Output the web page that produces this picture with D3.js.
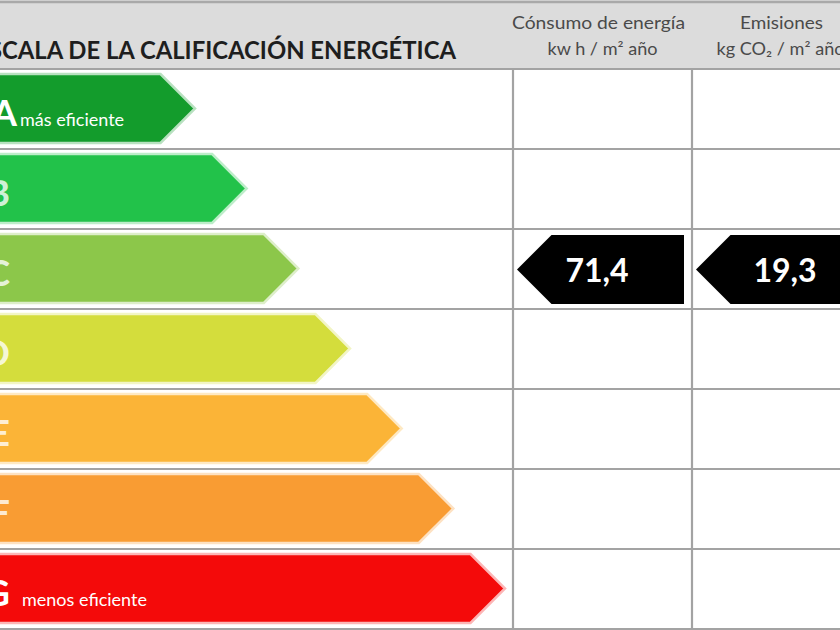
<!DOCTYPE html>
<html><head><meta charset="utf-8">
<script src="https://cdn.jsdelivr.net/npm/d3@7"></script>
<style>html,body{margin:0;padding:0;background:#fff;overflow:hidden}</style>
</head><body><svg id="c" width="840" height="630"></svg>
<script>
const categories = ["A","B","C","D","E","F","G"];
const categoryRank = [1,2,3,4,5,6,7];
const categoryColors = ["#139c2c","#22c24a","#8cc74a","#d4dd3c","#fbb437","#f99c33","#f40a0a"];
const categoryNotes = ["más eficiente","","","","","","menos eficiente"];
const columnTitles = ["Cónsumo de energía","Emisiones"];
const columnUnits = ["kw h / m² año","kg CO₂ / m² año"];
const ratedCategory = "C";
const ratedValues = [71.4, 19.3];
const titleText = "ESCALA DE LA CALIFICACIÓN ENERGÉTICA";

const svg = d3.select("#c");
const W = 840, H = 630;
const y = d3.scaleBand().domain(categories).range([69, 629]);
const x = d3.scaleLinear().domain([1, 7]).range([195, 505]);
const col = d3.scaleBand().domain([0, 1, 2]).range([513, 513 + 179 * 3]);
const fmt = d3.formatLocale({decimal: ",", thousands: ".", grouping: [3], currency: ["", "€"]}).format(".1f");
const FONT = "Lato, 'Open Sans', sans-serif";

function fitCentered(sel, target) {
  const w = sel.node().getComputedTextLength();
  if (w > 0) sel.attr("textLength", target).attr("lengthAdjust", "spacingAndGlyphs");
  return sel;
}

// header
svg.append("rect").attr("x", 0).attr("y", 0).attr("width", W).attr("height", 69).attr("fill", "#dcdcdc");
svg.append("line").attr("x1", 0).attr("x2", W).attr("y1", 2).attr("y2", 2).attr("stroke", "#a9a9a9").attr("stroke-width", 2.5);

// title: visible part "CALA ..." spans 2..456
const tmp = svg.append("text").attr("font-family", FONT).attr("font-weight", 700).attr("font-size", 25).text(titleText.slice(2));
const wSub = tmp.node().getComputedTextLength();
tmp.text(titleText);
const wFull = tmp.node().getComputedTextLength();
tmp.remove();
const fullTarget = 454 * wFull / wSub;
svg.append("text").attr("x", 456 - fullTarget).attr("y", 59)
  .attr("font-family", FONT).attr("font-weight", 700).attr("font-size", 25).attr("fill", "#1e1e1e")
  .attr("textLength", fullTarget).attr("lengthAdjust", "spacingAndGlyphs")
  .text(titleText);

// column headers
const titleWidths = [173, 83], unitWidths = [110, 128];
columnTitles.forEach((t, i) => {
  const cx = col(i) + col.bandwidth() / 2;
  fitCentered(svg.append("text").attr("x", cx - (i === 0 ? 4 : 0)).attr("y", 29).attr("text-anchor", "middle")
    .attr("font-family", FONT).attr("font-size", 17).attr("fill", "#4a4a4a").text(t), titleWidths[i]);
  fitCentered(svg.append("text").attr("x", cx - (i === 0 ? 0 : 1)).attr("y", 55).attr("text-anchor", "middle")
    .attr("font-family", FONT).attr("font-size", 17).attr("fill", "#4a4a4a").text(columnUnits[i]), unitWidths[i]);
});

// grid lines
const gridG = svg.append("g").attr("stroke", "#a3a3a3").attr("stroke-width", 2.2);
gridG.selectAll("line.h").data(categories.concat(["_end"])).join("line").attr("class", "h")
  .attr("x1", 0).attr("x2", W)
  .attr("y1", d => d === "_end" ? y.range()[1] : y(d))
  .attr("y2", d => d === "_end" ? y.range()[1] : y(d));
gridG.selectAll("line.v").data(col.domain()).join("line").attr("class", "v")
  .attr("x1", d => col(d)).attr("x2", d => col(d))
  .attr("y1", y.range()[0]).attr("y2", H);

// rating arrows
function arrowPath(left, tip, top, bottom) {
  const mid = (top + bottom) / 2, half = (bottom - top) / 2;
  const sh = tip - half;
  return `M${left},${top}L${sh},${top}L${tip},${mid}L${sh},${bottom}L${left},${bottom}Z`;
}
const rows = svg.append("g").selectAll("g").data(categories).join("g");
rows.append("path")
  .attr("d", (d, i) => arrowPath(-20, x(categoryRank[i]), y(d) + 5, y(d) + 74))
  .attr("fill", (d, i) => categoryColors[i])
  .attr("stroke", (d, i) => d3.interpolateRgb(categoryColors[i], "#ffffff")(0.7))
  .attr("stroke-width", 2.5);
rows.append("text")
  .attr("x", (d, i) => i === 0 ? 17 : 10).attr("y", d => y(d) + 57)
  .attr("text-anchor", "end").attr("font-family", FONT).attr("font-weight", 700).attr("font-size", 36)
  .attr("fill", "#ffffff").attr("fill-opacity", (d, i) => (i === 0 || i === 6) ? 1 : 0.8)
  .text(d => d);
rows.filter((d, i) => categoryNotes[i] !== "").append("text")
  .attr("x", (d, i) => i === 0 ? 20 : 22).attr("y", d => y(d) + 57)
  .attr("font-family", FONT).attr("font-size", 18).attr("fill", "#ffffff")
  .text(d => categoryNotes[categories.indexOf(d)]);

// rated value arrows
const vr = svg.append("g").selectAll("g").data(ratedValues).join("g");
vr.append("path")
  .attr("d", (v, i) => {
    const tip = col(i) + 4, top = y(ratedCategory) + 6, bottom = y(ratedCategory) + 75;
    const half = (bottom - top) / 2, mid = (top + bottom) / 2;
    const right = col(i) + col.bandwidth() - 8;
    return `M${tip},${mid}L${tip + half},${top}L${right},${top}L${right},${bottom}L${tip + half},${bottom}Z`;
  })
  .attr("fill", "#000");
vr.append("text")
  .attr("x", (v, i) => col(i) + (i === 0 ? 84 : 93)).attr("y", y(ratedCategory) + 53)
  .attr("text-anchor", "middle").attr("font-family", FONT).attr("font-weight", 700).attr("font-size", 32)
  .attr("fill", "#ffffff").text(v => fmt(v));
</script></body></html>
